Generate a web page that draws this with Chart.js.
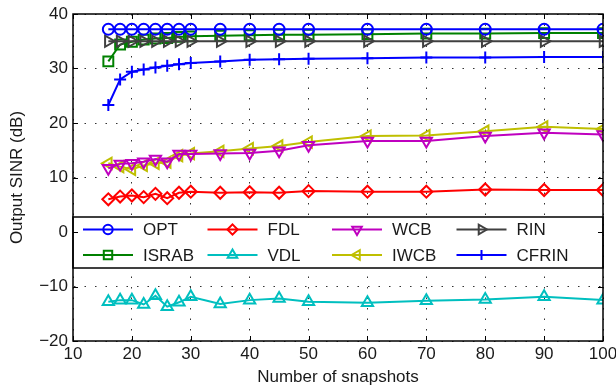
<!DOCTYPE html>
<html>
<head>
<meta charset="utf-8">
<script src="https://cdn.jsdelivr.net/npm/chart.js@4.4.0/dist/chart.umd.min.js"></script>
<style>
html, body { margin: 0; padding: 0; background: #fff; }
</style>
</head>
<body>
<canvas id="sinrChart" width="616" height="389"></canvas>
<script>
// x values (number of snapshots)
var snapshots = [16, 18, 20, 22, 24, 26, 28, 30, 35, 40, 45, 50, 60, 70, 80, 90, 100];

// output SINR per method (dB)
var opt   = [37.2, 37.2, 37.2, 37.2, 37.2, 37.2, 37.2, 37.2, 37.2, 37.2, 37.2, 37.2, 37.2, 37.2, 37.2, 37.2, 37.2];
var israb = [31.3, 34.4, 34.9, 35.3, 35.5, 35.6, 35.8, 35.9, 36.0, 36.1, 36.2, 36.2, 36.3, 36.4, 36.4, 36.5, 36.5];
var fdl   = [6.0, 6.5, 6.7, 6.4, 7.0, 6.2, 7.2, 7.4, 7.2, 7.3, 7.2, 7.5, 7.4, 7.4, 7.8, 7.7, 7.7];
var vdl   = [-12.8, -12.5, -12.5, -13.3, -11.7, -13.7, -12.9, -11.9, -13.2, -12.5, -12.2, -12.8, -13.0, -12.6, -12.4, -11.9, -12.5];
var wcb   = [11.7, 12.5, 12.6, 12.9, 13.4, 12.9, 14.3, 14.3, 14.4, 14.5, 14.9, 15.9, 16.7, 16.7, 17.6, 18.2, 17.9];
var iwcb  = [12.6, 12.0, 11.5, 12.2, 12.6, 12.8, 14.0, 14.4, 14.8, 15.3, 15.8, 16.5, 17.6, 17.7, 18.5, 19.3, 18.9];
var rin   = [35.0, 35.0, 35.0, 35.0, 35.0, 35.0, 35.0, 35.0, 35.0, 35.0, 35.0, 35.0, 35.0, 35.0, 35.0, 35.0, 35.0];
var cfrin = [23.3, 28.0, 29.4, 29.8, 30.2, 30.5, 30.8, 31.0, 31.3, 31.6, 31.7, 31.8, 31.9, 32.0, 32.0, 32.1, 32.1];

var xTicks = [10, 20, 30, 40, 50, 60, 70, 80, 90, 100];
var yTicks = [-20, -10, 0, 10, 20, 30, 40];

var FONT = "'Liberation Sans', Arial, Helvetica, sans-serif";

function toPoints(ys) {
    var pts = [];
    for (var i = 0; i < snapshots.length; i++) {
        pts.push({ x: snapshots[i], y: ys[i] });
    }
    return pts;
}

function series(label, ys, color, style, rot, radius) {
    return {
        label: label,
        data: toPoints(ys),
        borderColor: color,
        backgroundColor: color,
        borderWidth: 2,
        pointStyle: style,
        rotation: rot,
        pointRadius: radius,
        pointBorderWidth: 2,
        pointBorderColor: color,
        pointBackgroundColor: "rgba(0,0,0,0)",
        fill: false,
        tension: 0
    };
}

var datasets = [
    series("OPT",   opt,   "#0000ff", "circle",   0,   5.5),
    series("FDL",   fdl,   "#ff0000", "rectRot",  0,   6),
    series("WCB",   wcb,   "#bf00bf", "triangle", 180, 6.5),
    series("RIN",   rin,   "#404040", "triangle", 90,  6.5),
    series("ISRAB", israb, "#008000", "rect",     0,   7),
    series("VDL",   vdl,   "#00bfbf", "triangle", 0,   6.5),
    series("IWCB",  iwcb,  "#bfbf00", "triangle", -90, 6.5),
    series("CFRIN", cfrin, "#0000ff", "cross",    0,   6)
];

// box around the plot and matlab style inward ticks
var framePlugin = {
    id: "frame",
    afterDraw: function (chart) {
        var ctx = chart.ctx, a = chart.chartArea;
        var xs = chart.scales.x, ys = chart.scales.y;
        ctx.save();
        ctx.strokeStyle = "#000";
        ctx.lineWidth = 1;
        ctx.beginPath();
        xTicks.forEach(function (v) {
            var px = Math.round(xs.getPixelForValue(v)) + 0.5;
            ctx.moveTo(px, a.bottom); ctx.lineTo(px, a.bottom - 5);
            ctx.moveTo(px, a.top); ctx.lineTo(px, a.top + 5);
        });
        yTicks.forEach(function (v) {
            var py = Math.round(ys.getPixelForValue(v)) + 0.5;
            ctx.moveTo(a.left, py); ctx.lineTo(a.left + 5, py);
            ctx.moveTo(a.right, py); ctx.lineTo(a.right - 5, py);
        });
        ctx.stroke();
        ctx.lineWidth = 1.5;
        ctx.strokeRect(a.left, a.top, a.right - a.left, a.bottom - a.top);
        ctx.restore();
    }
};

// boxed legend inside the axes, 4 columns x 2 rows
var legendPlugin = {
    id: "boxLegend",
    afterDatasetsDraw: function (chart) {
        var ctx = chart.ctx, a = chart.chartArea;
        var top = a.top + 203, h = 51;
        ctx.save();
        ctx.fillStyle = "#fff";
        ctx.fillRect(a.left, top, a.right - a.left, h);
        ctx.strokeStyle = "#000";
        ctx.lineWidth = 1.5;
        ctx.strokeRect(a.left, top, a.right - a.left, h);
        ctx.font = "17px " + FONT;
        ctx.textBaseline = "middle";
        ctx.textAlign = "left";
        chart.data.datasets.forEach(function (ds, i) {
            var col = i % 4, row = Math.floor(i / 4);
            var x0 = a.left + 10 + col * 124.5;
            var y0 = top + 12.5 + row * 25.5;
            ctx.strokeStyle = ds.borderColor;
            ctx.lineWidth = 2;
            ctx.beginPath();
            ctx.moveTo(x0, y0);
            ctx.lineTo(x0 + 50, y0);
            ctx.stroke();
            if (Chart.helpers && Chart.helpers.drawPoint) {
                ctx.fillStyle = "rgba(0,0,0,0)";
                Chart.helpers.drawPoint(ctx, {
                    pointStyle: ds.pointStyle,
                    rotation: ds.rotation,
                    radius: ds.pointRadius * 0.85,
                    borderWidth: 2
                }, x0 + 25, y0);
            }
            ctx.fillStyle = "#1a1a1a";
            ctx.fillText(ds.label, x0 + 60, y0 + 1);
        });
        ctx.restore();
    }
};

var gridStyle = {
    color: "rgba(0,0,0,0.8)",
    lineWidth: 1,
    drawTicks: false,
    borderDash: [1.5, 9]
};
var borderStyle = {
    display: true,
    color: "rgba(0,0,0,0)",
    dash: [1.5, 9]
};

new Chart(document.getElementById("sinrChart"), {
    type: "line",
    data: { datasets: datasets },
    options: {
        responsive: false,
        animation: false,
        layout: { padding: { top: 14, right: 13, left: 0, bottom: 0 } },
        plugins: {
            legend: { display: false },
            tooltip: { enabled: false }
        },
        scales: {
            x: {
                type: "linear",
                min: 10,
                max: 100,
                afterBuildTicks: function (s) {
                    s.ticks = xTicks.map(function (v) { return { value: v }; });
                },
                afterFit: function (s) {
                    s.height = 48;
                    s.paddingLeft = 0;
                    s.paddingRight = 0;
                },
                ticks: {
                    autoSkip: false,
                    maxRotation: 0,
                    padding: 3,
                    color: "#1a1a1a",
                    font: { family: FONT, size: 17 }
                },
                grid: gridStyle,
                border: borderStyle,
                title: {
                    display: true,
                    text: "Number of snapshots",
                    color: "#1a1a1a",
                    font: { family: FONT, size: 17 },
                    padding: { top: 0, bottom: 1 }
                }
            },
            y: {
                min: -20,
                max: 40,
                afterBuildTicks: function (s) {
                    s.ticks = yTicks.map(function (v) { return { value: v }; });
                },
                afterFit: function (s) {
                    s.width = 73;
                    s.paddingTop = 0;
                    s.paddingBottom = 0;
                },
                ticks: {
                    padding: 5,
                    color: "#1a1a1a",
                    font: { family: FONT, size: 17 },
                    callback: function (v) { return String(v).replace("-", "\u2212"); }
                },
                grid: gridStyle,
                border: borderStyle,
                title: {
                    display: true,
                    text: "Output SINR (dB)",
                    color: "#1a1a1a",
                    font: { family: FONT, size: 17 },
                    padding: { top: 7, bottom: 0 }
                }
            }
        }
    },
    plugins: [legendPlugin, framePlugin]
});
</script>
</body>
</html>
